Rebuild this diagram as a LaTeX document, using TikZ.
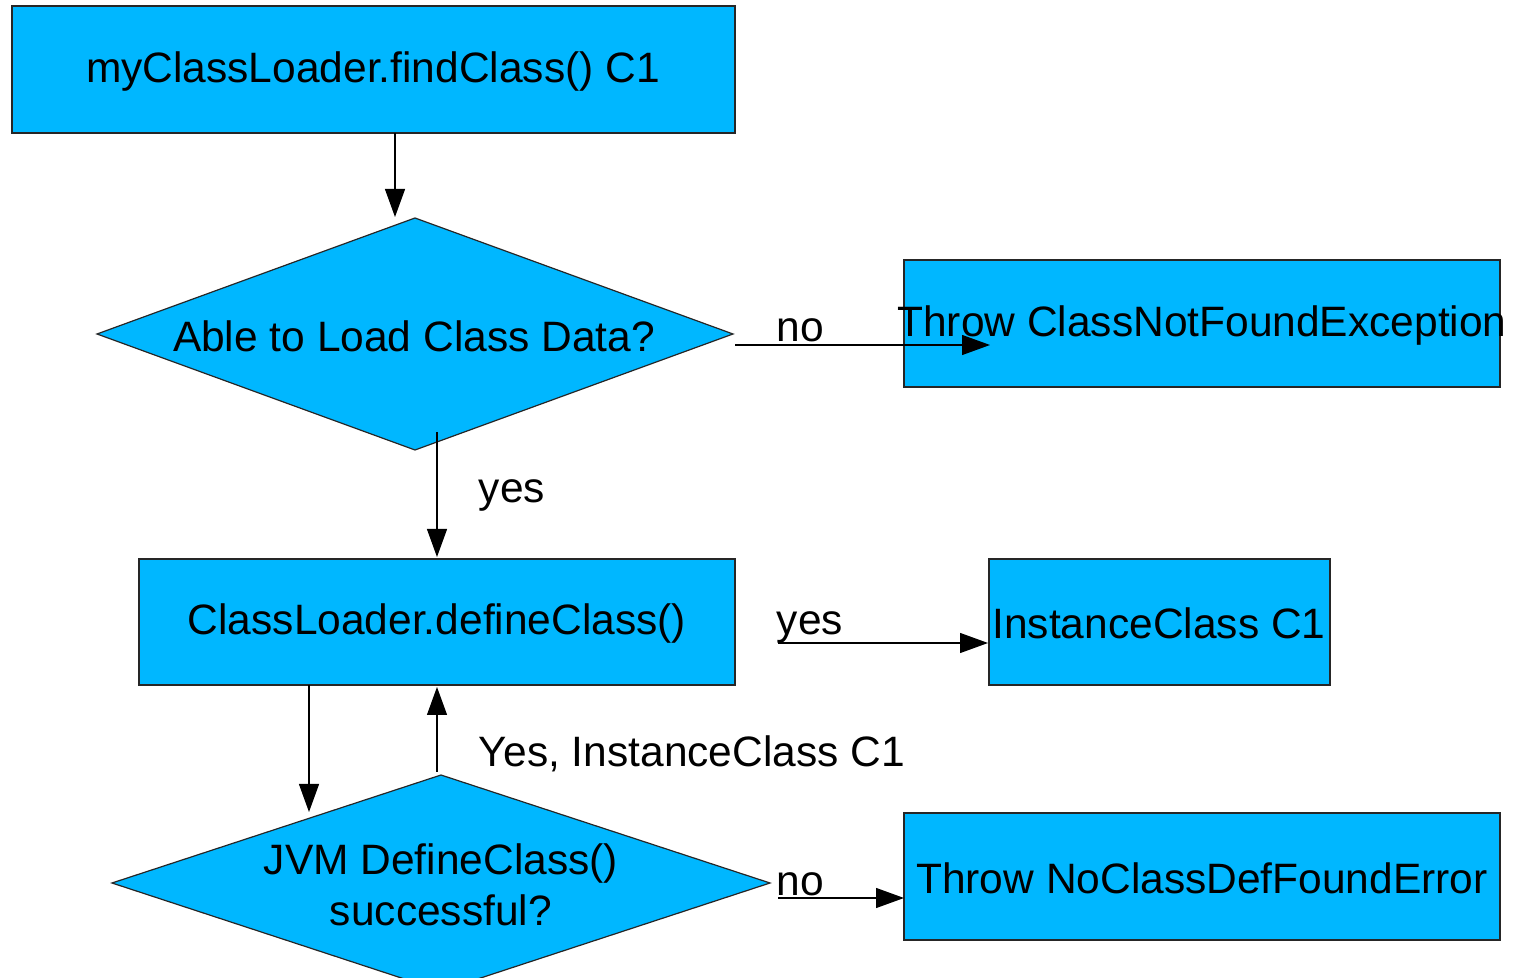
\documentclass[tikz,border=0pt]{standalone}
\usepackage{fontspec}
\setmainfont{Liberation Sans}
\usetikzlibrary{shapes.geometric,arrows.meta,calc}
\definecolor{boxblue}{RGB}{0,183,255}
\begin{document}
\begin{tikzpicture}[x=1pt,y=1pt,
  every node/.style={font=\fontsize{42.5}{51}\selectfont},
  blockbox/.style={rectangle,draw=black!85,line width=1.2pt,fill=boxblue,inner sep=0pt},
  decideshape/.style={draw=black!85,line width=1.2pt,fill=boxblue},
  flow/.style={draw=black,line width=1.2pt,-{Triangle[length=28pt,width=20pt]}},
  lbl/.style={inner sep=0pt}]
\useasboundingbox (0,0) rectangle (1514,977);
% diamonds (drawn shapes, text as named nodes)
\draw[decideshape] (97,643) -- (415,759) -- (733,643) -- (415,527) -- cycle;
\node[lbl] (d1) at (414,641) {Able to Load Class Data?};
\begin{scope}
\clip (0,0) rectangle (1514,977);
\draw[decideshape] (112,94) -- (441,202) -- (770,94) -- (441,-14) -- cycle;
\end{scope}
\node[lbl,align=center] (d2) at (441,92) {JVM DefineClass()\\successful?};
% boxes
\node[blockbox,minimum width=723pt,minimum height=127pt] (b1) at (373.5,907.5) {};
\node[lbl] (t1) at (373,905) {myClassLoader.findClass() C1};
\node[blockbox,minimum width=596pt,minimum height=127pt] (b2) at (1202,653.5) {};
\node[lbl] (t2) at (1202,651) {Throw ClassNotFoundException};
\node[blockbox,minimum width=596pt,minimum height=126pt] (b3) at (437,355) {};
\node[lbl] (t3) at (437,353) {ClassLoader.defineClass()};
\node[blockbox,minimum width=341pt,minimum height=126pt] (b4) at (1159.5,355) {};
\node[lbl] (t4) at (1159,354) {InstanceClass C1};
\node[blockbox,minimum width=596pt,minimum height=127pt] (b5) at (1202,100.5) {};
\node[lbl] (t5) at (1202,99) {Throw NoClassDefFoundError};
% coordinates for connector ends
\coordinate (a1s) at (395,844);
\coordinate (a1e) at (395,760);
\coordinate (a2s) at (735,632);
\coordinate (a2e) at (990,632);
\coordinate (a3s) at (437,545);
\coordinate (a3e) at (437,420);
\coordinate (a4s) at (778,334);
\coordinate (a4e) at (988,334);
\coordinate (a5s) at (309,292);
\coordinate (a5e) at (309,165);
\coordinate (a6s) at (437,205);
\coordinate (a6e) at (437,290);
\coordinate (a7s) at (778,79);
\coordinate (a7e) at (904,79);
% connectors
\draw[flow] (a1s) -- (a1e);
\draw[flow] (a2s) -- (a2e);
\draw[flow] (a3s) -- (a3e);
\draw[flow] (a4s) -- (a4e);
\draw[flow] (a5s) -- (a5e);
\draw[flow] (a6s) -- (a6e);
\draw[flow] (a7s) -- (a7e);
% labels
\node[lbl] (l1) at (800,647) {no};
\node[lbl] (l2) at (512,482) {yes};
\node[lbl] (l3) at (810,350) {yes};
\node[lbl] (l4) at (692,223) {Yes, InstanceClass C1};
\node[lbl] (l5) at (800,93) {no};
\end{tikzpicture}
\end{document}
